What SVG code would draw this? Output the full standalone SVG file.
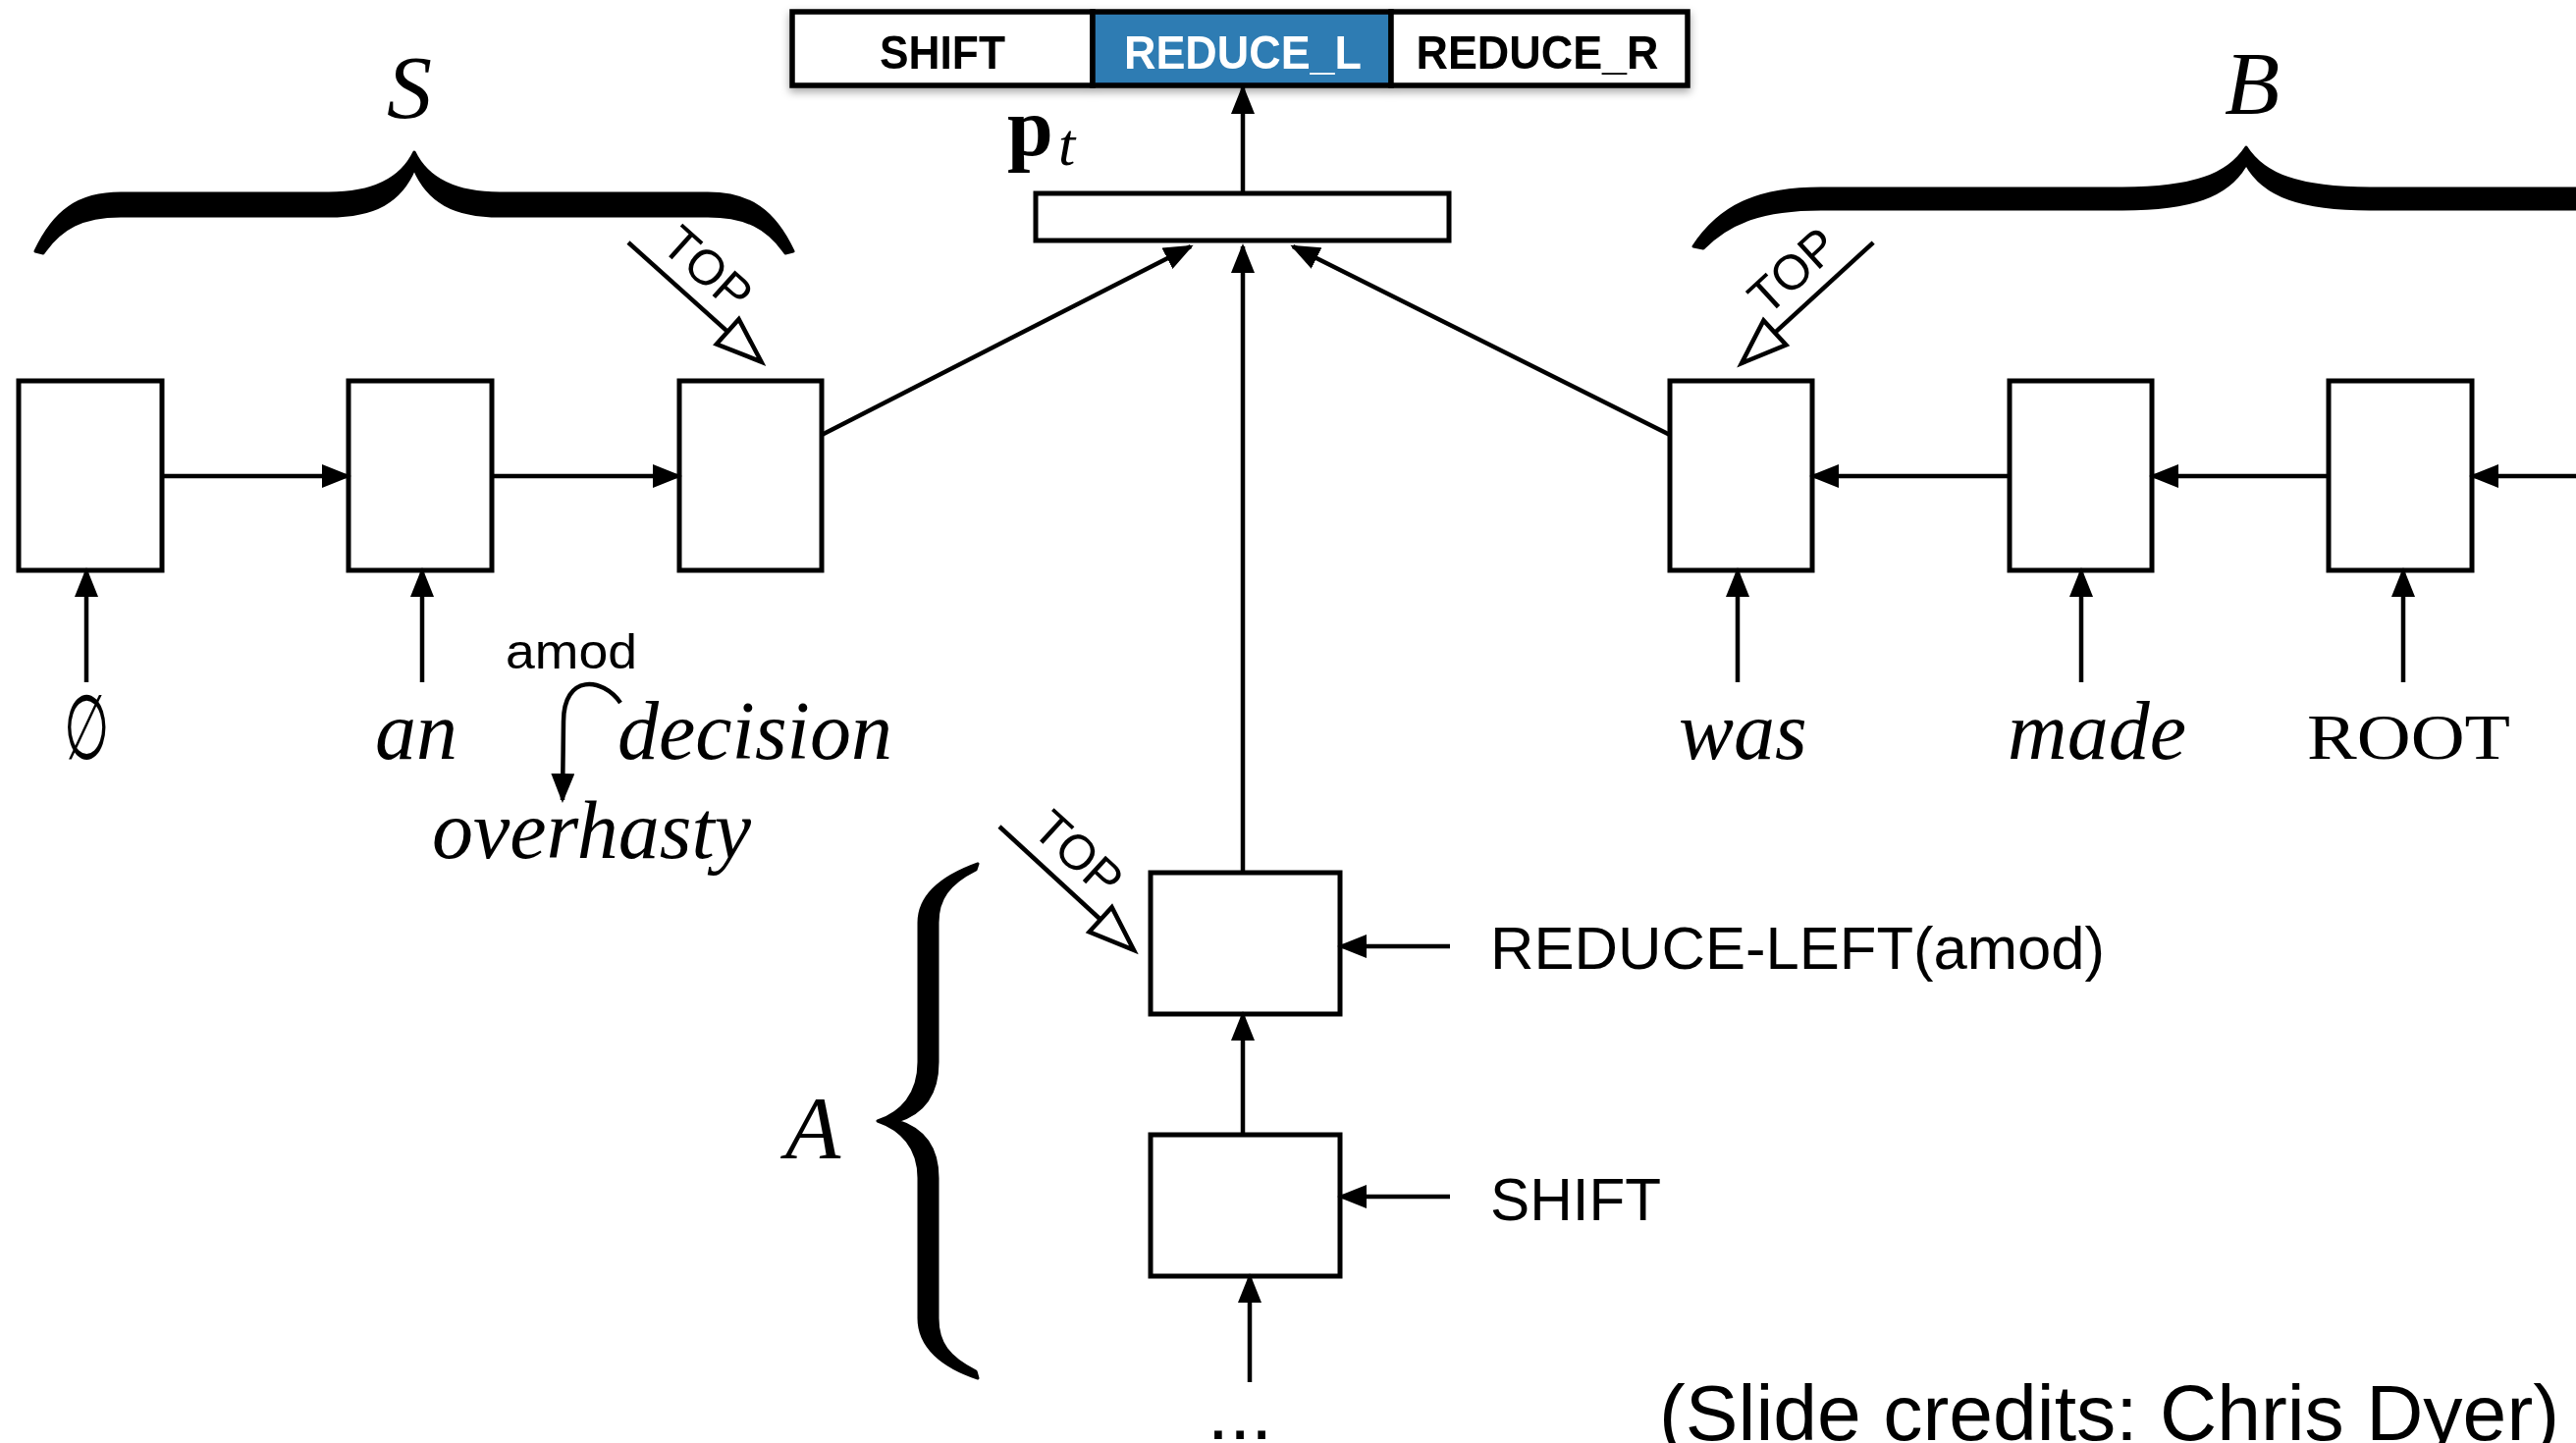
<svg xmlns="http://www.w3.org/2000/svg" width="2624" height="1470" viewBox="0 0 2624 1470">
<defs>
<style>
.box{fill:#fff;stroke:#000;stroke-width:5}
.cell{stroke:#000;stroke-width:5.5}
.arr{fill:none;stroke:#000;stroke-width:4.5;marker-end:url(#ah)}
.brace{fill:#000;stroke:#000;stroke-width:3;stroke-linejoin:round}
.it{font-family:"Liberation Serif","Times New Roman",serif;font-style:italic;font-size:84px}
.math{font-family:"Liberation Serif","Times New Roman",serif;font-style:italic;font-size:92px}
.sans{font-family:"Liberation Sans",Arial,sans-serif}
.bar{font-family:"Liberation Sans",Arial,sans-serif;font-weight:bold;font-size:48px}
.top{font-family:"Liberation Sans",Arial,sans-serif;font-size:50px}
.toparrow{fill:none;stroke:#000;stroke-width:4.5}
.tophead{fill:#fff;stroke:#000;stroke-width:4.5;stroke-linejoin:miter}
</style>
<marker id="ah" markerUnits="userSpaceOnUse" markerWidth="30" markerHeight="24" refX="27" refY="12" orient="auto"><path d="M0,0 L30,12 L0,24 Z" fill="#000"/></marker>
<filter id="sh" x="-5%" y="-30%" width="110%" height="170%"><feDropShadow dx="0" dy="4" stdDeviation="4" flood-color="#000" flood-opacity="0.35"/></filter>
</defs>
<rect width="2624" height="1470" fill="#fff"/>

<g id="actions" filter="url(#sh)">
<rect class="cell" x="807" y="12" width="306" height="75" fill="#fff"/>
<rect class="cell" x="1113" y="12" width="304" height="75" fill="#2d7bb3"/>
<rect class="cell" x="1417" y="12" width="302" height="75" fill="#fff"/>
<text class="bar" x="960" y="70" text-anchor="middle" textLength="128" lengthAdjust="spacingAndGlyphs">SHIFT</text>
<text class="bar" x="1266" y="70" text-anchor="middle" fill="#fff" textLength="242" lengthAdjust="spacingAndGlyphs">REDUCE_L</text>
<text class="bar" x="1566" y="70" text-anchor="middle" textLength="247" lengthAdjust="spacingAndGlyphs">REDUCE_R</text>
</g>

<g id="pt">
<rect class="box" x="1055" y="197" width="421" height="48"/>
<text x="1026" y="158" font-family="Liberation Serif,serif" font-weight="bold" font-size="84">p</text>
<text x="1078" y="168" font-family="Liberation Serif,serif" font-style="italic" font-size="62">t</text>
</g>

<g id="stackS">
<rect class="box" x="19" y="388" width="146" height="193"/>
<rect class="box" x="355" y="388" width="146" height="193"/>
<rect class="box" x="692" y="388" width="145" height="193"/>
<path class="brace" d="M36,256 C55,215 80,197 123,197 L335,197 C385,197 410,180 422,155 C434,180 459,197 509,197 L721,197 C764,197 789,215 808,256 L800,258 C782,232 760,220 721,220 L509,220 C462,220 436,205 422,172 C408,205 382,220 335,220 L123,220 C84,220 62,232 44,258 Z"/>
<text class="math" x="417" y="120" text-anchor="middle">S</text>
<g transform="translate(640,247) rotate(41.9)">
<line class="toparrow" x1="0" y1="0" x2="136" y2="0"/>
<path class="tophead" d="M182,0 L136,-17 L136,17 Z"/>
<text class="top" x="78" y="-17" text-anchor="middle">TOP</text>
</g>
</g>

<g id="bufferB">
<rect class="box" x="1701" y="388" width="145" height="193"/>
<rect class="box" x="2047" y="388" width="145" height="193"/>
<rect class="box" x="2372" y="388" width="146" height="193"/>
<path class="brace" d="M1725,251 C1752,210 1790,192 1855,192 L2162,192 C2235,192 2270,178 2288,150 C2306,178 2341,192 2414,192 L2721,192 C2786,192 2824,210 2851,251 L2841,253 C2815,226 2780,213 2721,213 L2414,213 C2345,213 2306,200 2288,167 C2270,200 2231,213 2162,213 L1855,213 C1796,213 1761,226 1735,253 Z"/>
<text class="math" x="2294" y="116" text-anchor="middle">B</text>
<g transform="translate(1774,370) rotate(-42.5)">
<line class="toparrow" x1="46" y1="0" x2="182" y2="0"/>
<path class="tophead" d="M0,0 L46,-17 L46,17 Z"/>
<text class="top" x="102" y="-17" text-anchor="middle">TOP</text>
</g>
</g>

<g id="historyA">
<rect class="box" x="1172" y="889" width="193" height="144"/>
<rect class="box" x="1172" y="1156" width="193" height="144"/>
<path class="brace" d="M996,880 C960,893 936,912 936,940 L936,1082 C936,1115 918,1134 894,1142 C918,1150 936,1169 936,1200 L936,1343 C936,1372 960,1392 996,1404 L994,1397 C966,1383 955,1368 955,1343 L955,1200 C955,1168 940,1150 914,1142 C940,1134 955,1116 955,1082 L955,940 C955,916 966,900 994,886 Z"/>
<text class="math" x="828" y="1180" text-anchor="middle">A</text>
<g transform="translate(1018,842) rotate(42.6)">
<line class="toparrow" x1="0" y1="0" x2="140" y2="0"/>
<path class="tophead" d="M186,0 L140,-17 L140,17 Z"/>
<text class="top" x="78" y="-17" text-anchor="middle">TOP</text>
</g>
</g>

<g id="connectors">
<path class="arr" d="M165,485 L355,485"/>
<path class="arr" d="M501,485 L692,485"/>
<path class="arr" d="M2047,485 L1846,485"/>
<path class="arr" d="M2372,485 L2192,485"/>
<path class="arr" d="M2624,485 L2518,485"/>
<path class="arr" d="M88,695 L88,581"/>
<path class="arr" d="M430,695 L430,581"/>
<path class="arr" d="M1770,695 L1770,581"/>
<path class="arr" d="M2120,695 L2120,581"/>
<path class="arr" d="M2448,695 L2448,581"/>
<path class="arr" d="M837,443 L1213,251"/>
<path class="arr" d="M1266,889 L1266,251"/>
<path class="arr" d="M1701,443 L1317,251"/>
<path class="arr" d="M1266,197 L1266,89"/>
<path class="arr" d="M1266,1156 L1266,1033"/>
<path class="arr" d="M1273,1408 L1273,1300"/>
<path class="arr" d="M1477,964 L1365,964"/>
<path class="arr" d="M1477,1219 L1365,1219"/>
<path class="arr" d="M632,716 C614,690 574,686 574,735 L573,815"/>
</g>

<g id="words">
<text transform="translate(88,773) scale(0.58,1)" font-family="DejaVu Serif,serif" font-size="92" text-anchor="middle">∅</text>
<text class="it" x="382" y="773">an</text>
<text class="it" x="629" y="773">decision</text>
<text class="sans" x="515" y="681" font-size="50" textLength="134" lengthAdjust="spacingAndGlyphs">amod</text>
<text class="it" x="440" y="874">overhasty</text>
<text class="it" x="1710" y="773">was</text>
<text class="it" x="2045" y="773">made</text>
<text x="2350" y="773" font-family="Liberation Serif,serif" font-size="66" textLength="207" lengthAdjust="spacingAndGlyphs">ROOT</text>
<text class="sans" x="1518" y="987" font-size="62" textLength="626" lengthAdjust="spacingAndGlyphs">REDUCE-LEFT(amod)</text>
<text class="sans" x="1518" y="1243" font-size="62" textLength="174" lengthAdjust="spacingAndGlyphs">SHIFT</text>
<text class="sans" x="1263" y="1466" font-size="80" text-anchor="middle">...</text>
<text class="sans" x="1690" y="1467" font-size="80" textLength="917" lengthAdjust="spacingAndGlyphs">(Slide credits: Chris Dyer)</text>
</g>
</svg>
